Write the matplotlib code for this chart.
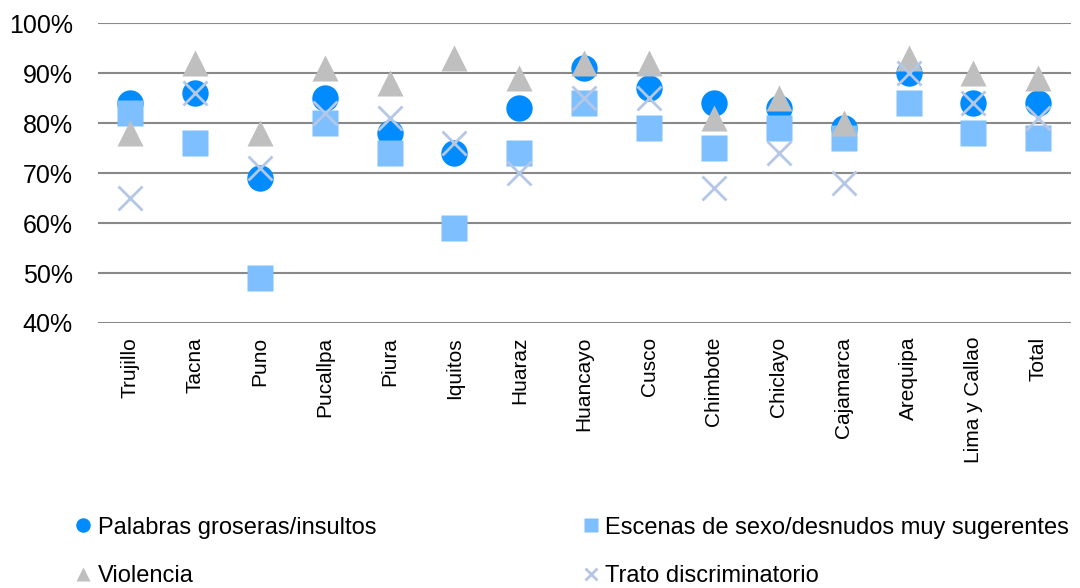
import matplotlib.pyplot as plt
from matplotlib.ticker import FuncFormatter

ciudades = ["Trujillo", "Tacna", "Puno", "Pucallpa", "Piura", "Iquitos", "Huaraz",
            "Huancayo", "Cusco", "Chimbote", "Chiclayo", "Cajamarca", "Arequipa",
            "Lima y Callao", "Total"]
palabras = [84, 86, 69, 85, 78, 74, 83, 91, 87, 84, 83, 79, 90, 84, 84]
escenas = [82, 76, 49, 80, 74, 59, 74, 84, 79, 75, 79, 77, 84, 78, 77]
violencia = [78, 92, 78, 91, 88, 93, 89, 92, 92, 81, 85, 80, 93, 90, 89]
trato = [65, 86, 71, 82, 81, 76, 70, 85, 85, 67, 74, 68, 90, 84, 81]

plt.rcParams['font.family'] = ['Liberation Sans', 'DejaVu Sans']

fig = plt.figure(figsize=(10.8, 5.88), dpi=100)
ax = fig.add_axes([0.0904, 0.4507, 0.901, 0.510])

x = range(len(ciudades))
ax.plot(x, palabras, 'o', ms=19, color='#008CFF', mec='none', label='Palabras groseras/insultos', zorder=3)
ax.plot(x, escenas, 's', ms=19, color='#7DBFFF', mec='none', label='Escenas de sexo/desnudos muy sugerentes', zorder=4)
ax.plot(x, violencia, '^', ms=19, color='#BFBFBF', mec='none', label='Violencia', zorder=5)
ax.plot(x, trato, 'x', ms=17, color='#B4C7E7', mew=2, label='Trato discriminatorio', zorder=6)

ax.set_xlim(-0.5, len(ciudades) - 0.5)
ax.set_ylim(40, 100)
ax.set_yticks(range(40, 101, 10))
ax.yaxis.set_major_formatter(FuncFormatter(lambda v, p: f"{v:.0f}%"))
ax.set_xticks(list(x))
ax.set_xticklabels(ciudades, rotation=90, fontsize=15)
ax.tick_params(axis='y', labelsize=18, length=0, pad=18)
ax.tick_params(axis='x', length=0, pad=10)
ax.grid(axis='y', color='#898989', lw=1.5)
ax.set_axisbelow(True)
for s in ax.spines.values():
    s.set_visible(False)

handles, labels = ax.get_legend_handles_labels()
order = [0, 2, 1, 3]
fig.legend([handles[i] for i in order], [labels[i] for i in order],
           loc='lower left', bbox_to_anchor=(0.051, -0.035), ncol=2, frameon=False,
           fontsize=17, markerscale=0.55, handlelength=0.6, handletextpad=0.3,
           columnspacing=8.8, labelspacing=1.13)

fig.savefig('out.png', dpi=100)
